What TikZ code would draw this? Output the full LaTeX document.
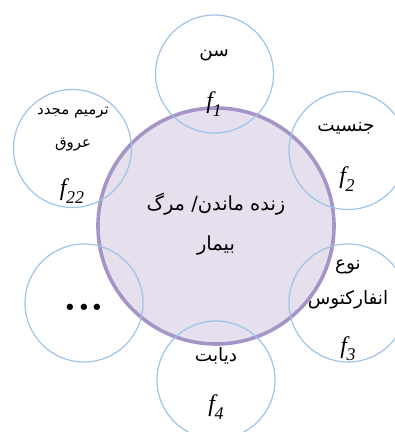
\documentclass[tikz,border=0pt]{standalone}
\usepackage{fontspec}
\usepackage{tikz}
\usetikzlibrary{positioning}
\newfontfamily\arabicfont[Script=Arabic]{DejaVu Sans}
\newfontfamily\serifit[ItalicFont={Liberation Serif Italic}]{Liberation Serif}
\TeXXeTstate=1
\definecolor{outcomeline}{HTML}{A694C7}
\definecolor{outcomefill}{HTML}{E6E0EE}
\definecolor{factorline}{HTML}{9DC3E6}
\newcommand{\fa}[1]{{\arabicfont\beginR #1\endR}}
\newcommand{\fvar}[1]{{\serifit\itshape f\kern-0.5pt\raisebox{-0.3em}{\fontsize{18}{18}\selectfont#1}}}

\begin{document}
\begin{tikzpicture}[x=1bp,y=-1bp,
  outcome/.style={circle,draw=outcomeline,fill=outcomefill,line width=3.6bp,minimum size=236bp,inner sep=0pt},
  factor/.style={circle,draw=factorline,line width=1.2bp,minimum size=118bp,inner sep=0pt},
  falabel/.style={font=\fontsize{18.5}{20}\selectfont},
  flabel/.style={font=\fontsize{24}{26}\selectfont}]
 \useasboundingbox (0,0) rectangle (395,432);
 \clip (0,0) rectangle (395,432);
 % --- outcome ---
 \node[outcome] (out) at (216,226) {};
 \node[falabel,font=\fontsize{19.5}{22}\selectfont] (outa) at (216,204) {\fa{زنده ماندن/ مرگ}};
 \node[falabel,font=\fontsize{19.5}{22}\selectfont] (outb) at (216,245) {\fa{بیمار}};
 % --- factors ---
 \foreach \n/\x/\y in {c1/214.5/74, c2/348/150.5, c3/348/303, c4/216/380, c5/84/303, c22/72.5/148.5}
   \node[factor] (\n) at (\x,\y) {};
 % --- factor texts ---
 \node[falabel] (t1) at (214,55) {\fa{سن}};
 \node[flabel] (s1) at (214,104) {\fvar{1}};
 \node[falabel] (t2) at (346,128) {\fa{جنسیت}};
 \node[flabel] (s2) at (347,179) {\fvar{2}};
 \node[falabel] (t3a) at (348,267) {\fa{نوع}};
 \node[falabel] (t3b) at (348,300) {\fa{انفارکتوس}};
 \node[flabel] (s3) at (348,349) {\fvar{3}};
 \node[falabel] (t4) at (216,356) {\fa{دیابت}};
 \node[flabel] (s4) at (216,407) {\fvar{4}};
 \node[font=\fontsize{44}{44}\selectfont\bfseries] (t5) at (84,307) {...};
 \node[falabel,font=\fontsize{15}{18}\selectfont] (t22a) at (73,113) {\fa{ترمیم مجدد}};
 \node[falabel,font=\fontsize{15}{18}\selectfont] (t22b) at (73,145) {\fa{عروق}};
 \node[flabel] (s22) at (72,191) {\fvar{22}};
\end{tikzpicture}
\end{document}
